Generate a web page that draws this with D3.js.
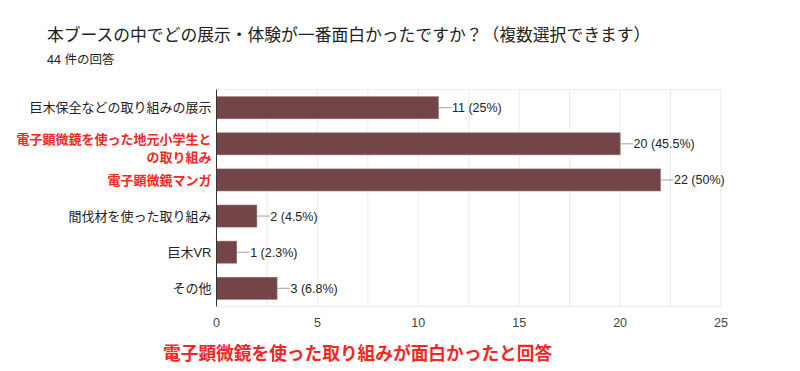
<!DOCTYPE html>
<html>
<head>
<meta charset="utf-8">
<script src="https://cdn.jsdelivr.net/npm/d3@7"></script>
<style>
  body { margin: 0; background: #fff; }
  svg { display: block; font-family: "Liberation Sans", "Noto Sans CJK JP", sans-serif; }
</style>
</head>
<body>
<div id="chart"></div>
<script>
var title = '本ブースの中でどの展示・体験が一番面白かったですか？（複数選択できます）';
var subtitle = '44 件の回答';
var note = '電子顕微鏡を使った取り組みが面白かったと回答';

var categories = [
    ['巨木保全などの取り組みの展示'],
    ['電子顕微鏡を使った地元小学生と', 'の取り組み'],
    ['電子顕微鏡マンガ'],
    ['間伐材を使った取り組み'],
    ['巨木VR'],
    ['その他']
];
var highlighted = [false, true, true, false, false, false];
var counts = [11, 20, 22, 2, 1, 3];
var percents = ['25%', '45.5%', '50%', '4.5%', '2.3%', '6.8%'];
var gridValues = [0, 2.5, 5, 7.5, 10, 12.5, 15, 17.5, 20, 22.5, 25];
var tickValues = [0, 5, 10, 15, 20, 25];

var width = 800, height = 371;
var margin = {top: 89.5, left: 216.5, right: 79, bottom: 64.5};

let svg = d3.select('#chart').append('svg')
    .attr('width', width)
    .attr('height', height);

let x = d3.scaleLinear().domain([0, 25]).range([margin.left, width - margin.right]);
let y = d3.scaleBand()
    .domain(d3.range(categories.length))
    .range([margin.top, height - margin.bottom])
    .paddingInner(0.39)
    .paddingOuter(0.2);

// title
svg.append('text')
    .attr('x', 47).attr('y', 41)
    .attr('font-size', 16.8)
    .attr('fill', '#212121')
    .text(title);

svg.append('text')
    .attr('x', 47).attr('y', 64)
    .attr('font-size', 12.5)
    .attr('fill', '#212121')
    .text(subtitle);

// grid
svg.append('g').selectAll('line')
    .data(gridValues)
    .enter().append('line')
    .attr('x1', d => x(d)).attr('x2', d => x(d))
    .attr('y1', margin.top).attr('y2', height - margin.bottom)
    .attr('stroke', '#ebebeb')
    .attr('stroke-width', 1);

svg.append('line')
    .attr('x1', margin.left).attr('x2', width - margin.right)
    .attr('y1', margin.top).attr('y2', margin.top)
    .attr('stroke', '#ebebeb');
svg.append('line')
    .attr('x1', margin.left).attr('x2', width - margin.right)
    .attr('y1', height - margin.bottom).attr('y2', height - margin.bottom)
    .attr('stroke', '#ebebeb');

// bars
svg.append('g').selectAll('rect')
    .data(counts)
    .enter().append('rect')
    .attr('x', x(0))
    .attr('y', (d, i) => y(i))
    .attr('width', d => x(d) - x(0))
    .attr('height', y.bandwidth())
    .attr('fill', '#744548')
    .attr('stroke', '#8d6a6c')
    .attr('stroke-width', 0.6);

// connectors + value labels
let labels = svg.append('g');
counts.forEach(function(d, i) {
    let cy = y(i) + y.bandwidth() / 2;
    labels.append('line')
        .attr('x1', x(d)).attr('x2', x(d) + 13)
        .attr('y1', cy).attr('y2', cy)
        .attr('stroke', '#a0a0a0')
        .attr('stroke-width', 1);
    labels.append('text')
        .attr('x', x(d) + 13.5).attr('y', cy)
        .attr('dy', '0.36em')
        .attr('font-size', 12.5)
        .attr('fill', '#222')
        .text(d + ' (' + percents[i] + ')');
});

// left axis line
svg.append('line')
    .attr('x1', margin.left).attr('x2', margin.left)
    .attr('y1', margin.top).attr('y2', height - margin.bottom)
    .attr('stroke', '#333')
    .attr('stroke-width', 1);

// category labels
let cats = svg.append('g');
categories.forEach(function(lines, i) {
    let cy = y(i) + y.bandwidth() / 2;
    let lh = 18;
    let start = cy - (lines.length - 1) * lh / 2 + (lines.length > 1 ? 4 : 0);
    lines.forEach(function(line, k) {
        cats.append('text')
            .attr('x', margin.left - 5)
            .attr('y', start + k * lh)
            .attr('dy', '0.36em')
            .attr('text-anchor', 'end')
            .attr('font-size', 13)
            .attr('font-weight', highlighted[i] ? 'bold' : 'normal')
            .attr('fill', highlighted[i] ? '#f0281e' : '#222')
            .text(line);
    });
});

// x ticks
svg.append('g').selectAll('text')
    .data(tickValues)
    .enter().append('text')
    .attr('x', d => x(d))
    .attr('y', 322)
    .attr('dy', '0.36em')
    .attr('text-anchor', 'middle')
    .attr('font-size', 12.5)
    .attr('fill', '#444')
    .text(d => d);

// annotation
svg.append('text')
    .attr('x', 163).attr('y', 354)
    .attr('dy', '0.36em')
    .attr('font-size', 17.7)
    .attr('font-weight', 'bold')
    .attr('fill', '#f0281e')
    .text(note);
</script>
</body>
</html>
